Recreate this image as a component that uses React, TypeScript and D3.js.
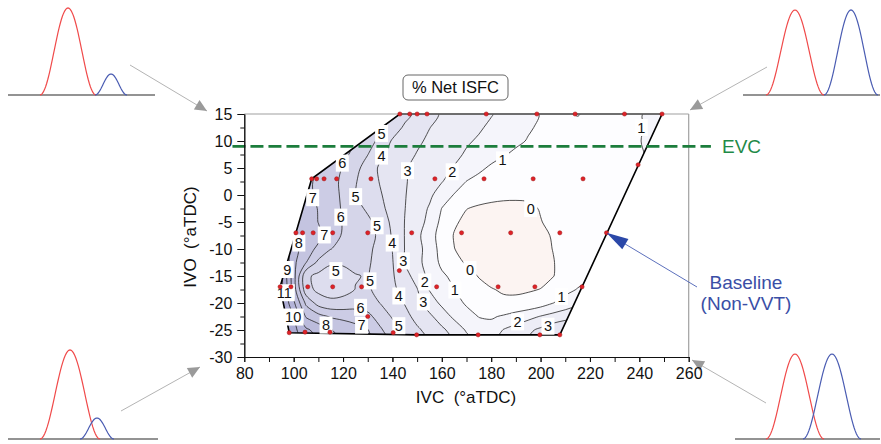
import React, { useEffect, useRef } from 'react';
import * as d3 from 'd3';

// grid of % Net ISFC (IVC across, IVO down)
const gridIvc = d3.range(90, 256, 5);
const gridIvo = [15, 12.5, 10, 7.5, 5, 2.5, 0, -2.5, -5, -7.5, -10, -12.5, -15, -17.5, -20, -22.5, -25, -27.5];
const netIsfc = [
  [8.5, 8.3, 8.1, 7.9, 7.6, 7.2, 6.8, 6.4, 6.0, 5.5, 4.98, 4.3, 3.75, 3.3, 2.9, 2.7, 2.5, 2.3, 2.05, 1.75, 1.5, 1.22, 0.97, 0.88, 0.9, 1.03, 0.88, 0.8, 0.8, 0.86, 0.96, 1.12, 1.3, 1.45],
  [8.6, 8.4, 8.2, 8.0, 7.7, 7.3, 6.8, 6.3, 5.8, 5.25, 4.5, 3.85, 3.45, 3.02, 2.75, 2.5, 2.3, 2.1, 1.85, 1.6, 1.35, 1.08, 0.9, 0.8, 0.78, 0.85, 0.78, 0.74, 0.75, 0.82, 0.95, 1.1, 1.25, 1.38],
  [8.7, 8.5, 8.3, 8.02, 7.6, 7.1, 6.6, 6.05, 5.5, 4.7, 3.9, 3.5, 3.15, 2.85, 2.55, 2.3, 2.1, 1.9, 1.65, 1.4, 1.15, 0.95, 0.8, 0.7, 0.65, 0.68, 0.68, 0.68, 0.72, 0.82, 0.98, 1.12, 1.22, 1.32],
  [8.8, 8.55, 8.25, 7.9, 7.4, 6.9, 6.25, 5.7, 5.02, 4.2, 3.7, 3.3, 2.95, 2.7, 2.45, 2.2, 1.9, 1.6, 1.35, 1.06, 0.85, 0.72, 0.62, 0.55, 0.52, 0.52, 0.55, 0.6, 0.68, 0.8, 0.95, 1.07, 1.17, 1.27],
  [8.3, 8.02, 7.7, 7.4, 7.02, 6.4, 5.95, 5.3, 4.55, 3.85, 3.5, 3.1, 2.75, 2.5, 2.25, 1.95, 1.6, 1.2, 0.85, 0.65, 0.5, 0.42, 0.38, 0.35, 0.35, 0.38, 0.45, 0.55, 0.65, 0.78, 0.92, 1.05, 1.15, 1.25],
  [8.3, 8.02, 7.7, 7.25, 6.8, 6.35, 5.8, 5.07, 4.5, 3.95, 3.55, 3.08, 2.7, 2.4, 2.05, 1.5, 0.98, 0.7, 0.5, 0.38, 0.3, 0.26, 0.25, 0.26, 0.28, 0.33, 0.4, 0.48, 0.56, 0.66, 0.76, 0.85, 0.92, 0.98],
  [8.4, 8.2, 8.02, 7.3, 6.8, 6.35, 5.85, 4.98, 4.5, 4.08, 3.6, 3.05, 2.6, 2.2, 1.5, 0.95, 0.55, 0.35, 0.22, 0.15, 0.12, 0.1, 0.15, 0.2, 0.25, 0.3, 0.35, 0.42, 0.5, 0.58, 0.65, 0.7, 0.75, 0.8],
  [8.6, 8.4, 8.1, 7.5, 6.95, 6.4, 5.9, 5.4, 4.8, 4.25, 3.65, 3.02, 2.5, 1.9, 0.98, 0.45, 0.02, -0.12, -0.18, -0.2, -0.18, -0.1, 0.03, 0.12, 0.18, 0.23, 0.28, 0.33, 0.4, 0.47, 0.53, 0.58, 0.63, 0.68],
  [8.9, 8.6, 8.15, 7.5, 6.98, 6.5, 5.95, 5.6, 5.25, 4.55, 3.8, 2.98, 2.45, 1.7, 0.75, 0.12, -0.2, -0.3, -0.35, -0.35, -0.3, -0.2, -0.02, 0.12, 0.2, 0.25, 0.3, 0.35, 0.4, 0.45, 0.5, 0.55, 0.6, 0.65],
  [9.4, 9.02, 8.1, 7.6, 7.2, 6.45, 5.9, 5.6, 5.35, 4.8, 3.9, 2.97, 2.25, 1.4, 0.6, -0.05, -0.3, -0.38, -0.42, -0.42, -0.38, -0.3, -0.15, 0.05, 0.17, 0.23, 0.28, 0.33, 0.38, 0.43, 0.48, 0.53, 0.58, 0.63],
  [10.02, 9.6, 8.5, 7.3, 6.85, 6.02, 5.7, 5.45, 5.2, 4.7, 3.98, 2.98, 2.35, 1.55, 0.65, 0.02, -0.3, -0.4, -0.45, -0.45, -0.4, -0.3, -0.15, 0.01, 0.15, 0.25, 0.3, 0.35, 0.4, 0.45, 0.5, 0.55, 0.6, 0.65],
  [11.02, 10.4, 8.25, 7.02, 5.75, 5.1, 5.1, 5.2, 5.12, 4.65, 4.06, 2.93, 2.3, 1.55, 0.8, 0.3, -0.1, -0.35, -0.45, -0.5, -0.48, -0.4, -0.25, -0.03, 0.2, 0.35, 0.42, 0.47, 0.5, 0.53, 0.57, 0.6, 0.64, 0.68],
  [12.02, 11.2, 8.4, 5.2, 4.75, 4.6, 4.72, 4.96, 5.05, 4.6, 4.1, 3.4, 2.55, 1.75, 1.15, 0.78, 0.35, -0.05, -0.3, -0.42, -0.44, -0.38, -0.25, -0.03, 0.3, 0.6, 0.85, 0.9, 0.85, 0.82, 0.8, 0.8, 0.8, 0.8],
  [12.2, 11.3, 8.5, 5.4, 4.75, 4.55, 4.7, 5.02, 5.1, 4.75, 4.2, 3.65, 3.05, 1.95, 1.45, 1.02, 0.65, 0.3, 0.05, -0.1, -0.12, -0.08, 0.02, 0.3, 0.7, 1.05, 1.3, 1.4, 1.4, 1.4, 1.4, 1.4, 1.4, 1.4],
  [12.3, 11.2, 9.2, 6.8, 5.6, 5.25, 5.3, 5.5, 5.5, 4.98, 4.5, 3.95, 3.3, 2.5, 1.8, 1.35, 0.88, 0.55, 0.3, 0.18, 0.18, 0.3, 0.55, 0.98, 1.4, 1.8, 2.1, 2.2, 2.2, 2.2, 2.2, 2.2, 2.2, 2.2],
  [12.02, 11.02, 10.02, 7.9, 7.35, 6.9, 6.75, 6.6, 6.25, 5.6, 4.9, 4.3, 3.7, 3.2, 2.5, 1.8, 1.35, 0.97, 0.9, 1.1, 1.4, 1.7, 2.05, 2.35, 2.6, 2.8, 2.9, 2.98, 2.98, 2.98, 2.98, 2.98, 2.98, 2.98],
  [12.2, 11.3, 10.3, 9.2, 8.6, 8.05, 7.65, 7.35, 7.05, 6.15, 5.45, 4.75, 4.15, 3.7, 3.2, 2.6, 1.9, 1.45, 1.38, 2.05, 2.4, 2.8, 3.2, 3.65, 3.98, 4.3, 4.5, 4.6, 4.6, 4.6, 4.6, 4.6, 4.6, 4.6],
  [12.3, 11.5, 10.6, 9.6, 8.98, 8.4, 7.9, 7.55, 7.25, 6.5, 5.8, 5.1, 4.5, 3.98, 3.5, 2.98, 2.4, 1.9, 1.8, 2.4, 2.8, 3.2, 3.6, 3.98, 4.3, 4.6, 4.8, 4.9, 4.9, 4.9, 4.9, 4.9, 4.9, 4.9],
];
const levels = d3.range(0, 12);

// measured operating points [IVC, IVO]
const designPoints: [number, number][] = [
  [143, 15], [147, 15], [150, 15], [154, 15], [178, 15], [198.5, 15], [214, 15], [234, 15], [249.2, 15],
  [107.3, 3], [109.3, 3], [112.3, 3], [117.4, 3], [131.3, 3], [157.2, 3], [177.1, 3], [197, 3], [217.2, 3],
  [239.5, 5.6],
  [100.9, -7], [103.6, -7], [107.9, -7], [115.8, -7], [130, -7], [147.8, -7], [168, -7], [187.9, -7], [207.8, -7], [226.7, -7],
  [142.8, -14],
  [94.5, -17], [98.9, -17], [105.7, -17], [115.8, -17], [127.5, -17], [157.9, -17], [182.8, -17], [197.7, -17], [216.8, -17],
  [130, -22.5],
  [98.2, -25.5], [104.6, -25.4], [114.7, -25.4], [140.3, -25.5],
  [149.8, -25.9], [174.7, -25.9], [199.7, -25.9], [207.8, -25.9],
];

// contour labels [IVC, IVO, level]
const contourLabels: [number, number, number][] = [
  [135.6, 11.4, 5], [135.6, 7.2, 4], [119.7, 5.9, 6], [146.1, 4.5, 3], [125.1, -0.3, 5], [107.7, -0.5, 7],
  [119.1, -4.1, 6], [133.8, -5.7, 5], [112.4, -7.4, 7], [102.1, -8.9, 8], [139.9, -8.9, 4], [144.4, -12.2, 3],
  [97.4, -13.8, 9], [117.1, -14.0, 5], [130.9, -15.9, 5], [153.1, -16.1, 2], [96.2, -18.1, 11], [142.6, -18.7, 4],
  [152.5, -19.8, 3], [127.1, -20.8, 6], [99.8, -22.6, 10], [127.5, -24.1, 7], [113.1, -24.1, 8], [142.6, -24.2, 5],
  [240.8, 12.5, 1], [164.2, 4.3, 2], [184.6, 6.5, 1], [196.0, -2.5, 0], [171.4, -13.8, 0], [165.3, -17.6, 1],
  [208.5, -18.8, 1], [190.7, -23.5, 2], [203.0, -24.3, 3],
];

const xTicks = d3.range(80, 261, 20);
const xMinor = d3.range(80, 261, 10);
const yTicks = d3.range(-30, 16, 5);
const yMinor = d3.range(-30, 16, 2.5);
const evcIvo = 9;
const baselinePoint: [number, number] = [226.7, -7];

// valve-lift sketches in the corners: [centre, half width, height, colour]
const insets = [
  { x0: 8, x1: 155, base: 95, peaks: [[68, 28, 87, 'red'], [111, 16, 21, 'blue']] },
  { x0: 743, x1: 880, base: 95, peaks: [[795, 29, 85, 'red'], [851, 27, 85, 'blue']] },
  { x0: 8, x1: 158, base: 439, peaks: [[70, 30, 89, 'red'], [97, 17, 21, 'blue']] },
  { x0: 735, x1: 880, base: 439, peaks: [[795, 29, 85, 'red'], [832, 29, 85, 'blue']] },
];
const cornerArrows = [
  [[130, 65], [207, 111]],
  [[767, 67], [690, 110]],
  [[121, 411], [200, 367]],
  [[766, 403], [692, 360]],
];

const FONT = "'Liberation Sans', Arial, sans-serif";

function head(from: number[], to: number[], len: number, wid: number) {
  const dx = to[0] - from[0], dy = to[1] - from[1];
  const d = Math.hypot(dx, dy);
  const ux = dx / d, uy = dy / d;
  const bx = to[0] - ux * len, by = to[1] - uy * len;
  return `M${to[0]},${to[1]}L${bx - uy * wid / 2},${by + ux * wid / 2}L${bx + uy * wid / 2},${by - ux * wid / 2}Z`;
}

export default function App() {
  const svgRef = useRef<SVGSVGElement>(null);

  useEffect(() => {
    const svg = d3.select(svgRef.current);
    svg.selectAll('*').remove();

    const x = d3.scaleLinear().domain([80, 260]).range([244.3, 688.7]);
    const y = d3.scaleLinear().domain([-30, 15]).range([357, 114]);

    svg.append('rect').attr('width', 881).attr('height', 444).attr('fill', '#fff');

    // corner sketches
    const inset = svg.append('g');
    insets.forEach(s => {
      inset.append('line').attr('x1', s.x0).attr('x2', s.x1).attr('y1', s.base).attr('y2', s.base)
        .attr('stroke', '#6f6f6f').attr('stroke-width', 1.6);
      s.peaks.forEach(([c, hw, h, col]) => {
        const pts = d3.range(-1, 1.0001, 0.04).map(t => [
          (c as number) + t * (hw as number),
          s.base - (h as number) * (0.5 + 0.5 * Math.cos(Math.PI * t)),
        ] as [number, number]);
        inset.append('path').attr('d', d3.line()(pts)!).attr('fill', 'none')
          .attr('stroke', col === 'red' ? '#f04a4a' : '#4a5cb2').attr('stroke-width', 1.2);
      });
    });
    cornerArrows.forEach(([a, b]) => {
      inset.append('line').attr('x1', a[0]).attr('y1', a[1]).attr('x2', b[0]).attr('y2', b[1])
        .attr('stroke', '#b4b4b4').attr('stroke-width', 1);
      inset.append('path').attr('d', head(a, b, 12, 11)).attr('fill', '#9a9a9a');
    });

    // contour field
    const n = gridIvc.length, m = gridIvo.length;
    const probe = d3.contours().size([2, 1]).thresholds([0.5])([0, 1]);
    const off = d3.min(probe[0].coordinates[0][0], p => p[0])! - 0.5;
    const gx = d3.scaleLinear().domain([off, n - 1 + off]).range([gridIvc[0], gridIvc[n - 1]]);
    const gy = d3.scaleLinear().domain([off, m - 1 + off]).range([gridIvo[0], gridIvo[m - 1]]);
    const toPx = (p: number[]) => [x(gx(p[0])), y(gy(p[1]))] as [number, number];

    const bands = d3.contours().size([n, m]).thresholds([-100, ...levels])(netIsfc.flat());
    const ring = d3.line().curve(d3.curveCatmullRomClosed.alpha(0.5));
    const pathOf = (mp: d3.ContourMultiPolygon) =>
      mp.coordinates.map(poly => poly.map(r => ring(r.slice(0, -1).map(toPx))).join('')).join('');

    const hull = d3.polygonHull(designPoints.map(([a, b]) => [x(a), y(b)] as [number, number]))!;
    const hullD = 'M' + hull.map(p => p.join(',')).join('L') + 'Z';
    svg.append('defs').append('clipPath').attr('id', 'hull-clip').append('path').attr('d', hullD);

    const bandColor = d3.scaleLinear<string>().domain([0, 11]).range(['#fdfdff', '#a4a4cf']);
    const field = svg.append('g').attr('clip-path', 'url(#hull-clip)');
    field.selectAll('path.band').data(bands).join('path').attr('class', 'band')
      .attr('d', d => pathOf(d))
      .attr('fill', d => (d.value < 0 ? '#fcf4f2' : bandColor(d.value)))
      .attr('fill-rule', 'evenodd');
    field.selectAll('path.iso').data(bands.filter(d => d.value >= 0)).join('path').attr('class', 'iso')
      .attr('d', d => pathOf(d))
      .attr('fill', 'none').attr('stroke', '#262626').attr('stroke-width', 0.8);

    svg.append('path').attr('d', hullD).attr('fill', 'none').attr('stroke', '#000').attr('stroke-width', 1.6);

    // frame
    svg.append('line').attr('x1', x(80)).attr('x2', x(260)).attr('y1', y(15)).attr('y2', y(15))
      .attr('stroke', '#a0a0a0').attr('stroke-width', 1.2);
    svg.append('line').attr('x1', x(260)).attr('x2', x(260)).attr('y1', y(15)).attr('y2', y(-30))
      .attr('stroke', '#a0a0a0').attr('stroke-width', 1.2);

    // labels on contours
    const lab = svg.append('g').attr('font-family', FONT).attr('font-size', 14.5);
    contourLabels.forEach(([a, b, v]) => {
      const t = String(v);
      const w = t.length * 8 + 5;
      lab.append('rect').attr('x', x(a) - w / 2).attr('y', y(b) - 8.5).attr('width', w).attr('height', 17).attr('fill', '#fff');
      lab.append('text').attr('x', x(a)).attr('y', y(b)).attr('dy', '0.36em').attr('text-anchor', 'middle')
        .attr('fill', '#111').text(t);
    });

    // design points
    svg.append('g').selectAll('circle').data(designPoints).join('circle')
      .attr('cx', d => x(d[0])).attr('cy', d => y(d[1])).attr('r', 2.1)
      .attr('fill', '#df2228').attr('stroke', '#9a1212').attr('stroke-width', 0.5);

    // EVC line
    svg.append('line').attr('x1', x(75.2)).attr('x2', x(269)).attr('y1', y(evcIvo)).attr('y2', y(evcIvo))
      .attr('stroke', '#1c7d3c').attr('stroke-width', 2.6).attr('stroke-dasharray', '13,5');
    svg.append('text').attr('x', 722).attr('y', y(evcIvo)).attr('dy', '0.36em')
      .attr('font-family', FONT).attr('font-size', 19).attr('fill', '#1f8a48').text('EVC');

    // baseline annotation
    const tip = [x(baselinePoint[0]), y(baselinePoint[1])];
    svg.append('line').attr('x1', 697).attr('y1', 287).attr('x2', tip[0] + 15).attr('y2', tip[1] + 9)
      .attr('stroke', '#4a60b4').attr('stroke-width', 0.9);
    svg.append('path').attr('d', head([697, 287], tip, 22, 12)).attr('fill', '#2b48a8');
    const bl = svg.append('g').attr('font-family', FONT).attr('font-size', 19).attr('fill', '#3a4ea6')
      .attr('text-anchor', 'middle');
    bl.append('text').attr('x', 746).attr('y', 282).attr('dy', '0.36em').text('Baseline');
    bl.append('text').attr('x', 746).attr('y', 303).attr('dy', '0.36em').text('(Non-VVT)');

    // axes
    const ax = svg.append('g').attr('transform', `translate(0,${y(-30)})`);
    ax.call(d3.axisBottom(x).tickValues(xMinor).tickSize(5).tickSizeOuter(0).tickFormat(() => ''));
    ax.call(g => g.append('g').call(d3.axisBottom(x).tickValues(xTicks).tickSize(5).tickSizeOuter(0).tickPadding(6)
      .tickFormat(d => String(d))));
    const ay = svg.append('g').attr('transform', `translate(${x(80)},0)`);
    ay.call(d3.axisLeft(y).tickValues(yMinor).tickSize(4).tickSizeOuter(0).tickFormat(() => ''));
    ay.call(g => g.append('g').call(d3.axisLeft(y).tickValues(yTicks).tickSize(7).tickSizeOuter(0).tickPadding(5)
      .tickFormat(d => String(d))));
    svg.selectAll('.tick text').attr('font-family', FONT).attr('font-size', 16).attr('fill', '#111');
    svg.selectAll('.domain, .tick line').attr('stroke', '#111');

    svg.append('text').attr('x', 466).attr('y', 397).attr('dy', '0.36em').attr('text-anchor', 'middle')
      .attr('font-family', FONT).attr('font-size', 17).attr('fill', '#111').text('IVC\u00a0\u00a0(°aTDC)');
    svg.append('text').attr('transform', 'translate(190,237) rotate(-90)').attr('dy', '0.36em')
      .attr('text-anchor', 'middle').attr('font-family', FONT).attr('font-size', 17).attr('fill', '#111')
      .text('IVO\u00a0\u00a0(°aTDC)');

    // title box
    svg.append('rect').attr('x', 403).attr('y', 75).attr('width', 105).attr('height', 25).attr('rx', 5)
      .attr('fill', '#fff').attr('stroke', '#666').attr('stroke-width', 1);
    svg.append('text').attr('x', 455.5).attr('y', 87.5).attr('dy', '0.36em').attr('text-anchor', 'middle')
      .attr('font-family', FONT).attr('font-size', 16.5).attr('fill', '#111').text('% Net ISFC');
  }, []);

  return (
    <div style={{ position: 'absolute', left: 0, top: 0 }}>
      <svg ref={svgRef} width={881} height={444} style={{ display: 'block' }} />
    </div>
  );
}
